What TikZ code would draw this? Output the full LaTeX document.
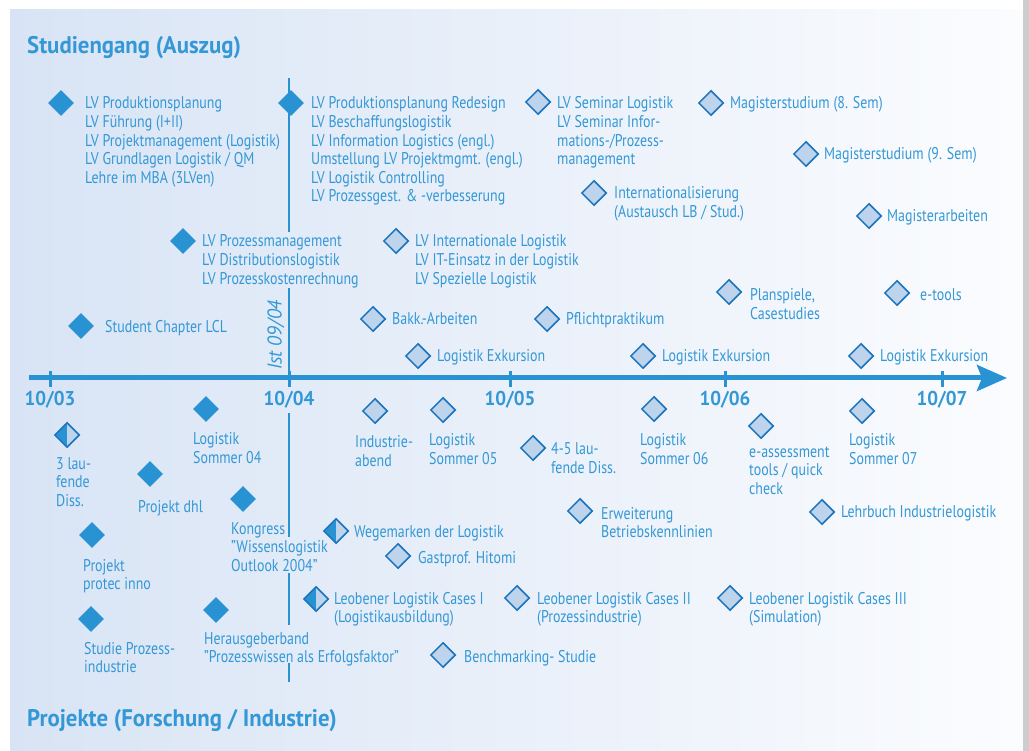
\documentclass[tikz,border=0pt]{standalone}
\usepackage{fontspec}
\setmainfont{PT Sans}[FakeStretch=0.82]
\newfontfamily\headfont{PT Sans}[FakeStretch=0.95]
\usetikzlibrary{shapes.geometric,arrows.meta}
\definecolor{tblue}{RGB}{52,152,214}
\definecolor{dblue}{RGB}{40,146,210}
\definecolor{lfill}{RGB}{190,211,236}
\definecolor{edge}{RGB}{24,114,188}
\definecolor{bgleft}{RGB}{216,228,245}
\definecolor{bgright}{RGB}{251,252,254}
\definecolor{rim}{RGB}{205,205,205}
% stacked lines, aligned on the baseline of the first line
\newcommand\stack[1]{\begin{tabular}[t]{@{}l@{}}#1\end{tabular}}
\begin{document}
\begin{tikzpicture}[x=1pt,y=-1pt,
  fd/.style={diamond,inner sep=0,minimum width=26pt,minimum height=26pt,fill=dblue},
  ld/.style={diamond,inner sep=0,minimum width=25pt,minimum height=25pt,fill=lfill,draw=edge,line width=1.5pt},
  hd/.style={ld,path picture={\fill[dblue] (path picture bounding box.south west) rectangle (path picture bounding box.north);}},
  lbl/.style={anchor=base west,inner sep=0,text=tblue,font=\fontsize{17}{18.6}\selectfont},
  head/.style={anchor=base west,inner sep=0,text=tblue,font=\headfont\fontsize{24}{28}\selectfont\bfseries},
  yr/.style={anchor=base,inner sep=0,text=tblue,font=\headfont\fontsize{20}{24}\selectfont\bfseries},
  axisline/.style={draw=dblue,line width=5pt},
  tickline/.style={draw=dblue,line width=3pt},
  statusline/.style={draw=dblue,line width=2pt}]
% page and panel
\useasboundingbox (0,0) rectangle (1029,751);
\fill[white] (0,0) rectangle (1029,751);
\fill[rim] (1023,0) rectangle (1029,751);
\shade[left color=bgleft,right color=bgright] (10,10) rectangle (1022,751);

% headings
\node[head] (hStud) at (27,54) {Studiengang (Auszug)};
\node[head] (hProj) at (27,726) {Projekte (Forschung / Industrie)};

% time axis
\coordinate (axL) at (29,378);
\coordinate (axR) at (1007,378);
\draw[axisline,-{Stealth[length=30pt,width=26pt,inset=5pt]}] (axL) -- (axR);
\foreach \x/\n in {50/03,289/04,510/05,725/06,942/07}{
  \coordinate (t\n) at (\x,378);
  \draw[tickline] (\x,371) -- (\x,387);
  \node[yr] (y\n) at (\x,406) {10/\n};
}

% status line at 09/04
\coordinate (s1a) at (289,78);  \coordinate (s1b) at (289,232);
\coordinate (s2a) at (289,288); \coordinate (s2b) at (289,378);
\coordinate (s3a) at (289,413); \coordinate (s3b) at (289,537);
\coordinate (s4a) at (289,573); \coordinate (s4b) at (289,625);
\coordinate (s5a) at (289,663); \coordinate (s5b) at (289,682);
\draw[statusline] (s1a) -- (s1b);
\draw[statusline] (s2a) -- (s2b);
\draw[statusline] (s3a) -- (s3b);
\draw[statusline] (s4a) -- (s4b);
\draw[statusline] (s5a) -- (s5b);
\node[rotate=90,inner sep=0,text=tblue,font=\headfont\fontsize{20}{22}\selectfont\itshape] (ist) at (276,335) {Ist 09/04};

% ---- Studiengang ----
\node[fd] (d1) at (61,103) {};
\node[lbl] (l1) at (85,109) {\stack{LV Produktionsplanung\\LV Führung (I+II)\\LV Projektmanagement (Logistik)\\LV Grundlagen Logistik / QM\\Lehre im MBA (3LVen)}};
\node[fd] (d2) at (291,103) {};
\node[lbl] (l2) at (311,109) {\stack{LV Produktionsplanung Redesign\\LV Beschaffungslogistik\\LV Information Logistics (engl.)\\Umstellung LV Projektmgmt. (engl.)\\LV Logistik Controlling\\LV Prozessgest. \& -verbesserung}};
\node[ld] (d3) at (538,102) {};
\node[lbl] (l3) at (557,109) {\stack{LV Seminar Logistik\\LV Seminar Infor-\\mations-/Prozess-\\management}};
\node[ld] (d4) at (711,103) {};
\node[lbl] (l4) at (730,109) {Magisterstudium (8. Sem)};
\node[ld] (d5) at (806,154) {};
\node[lbl] (l5) at (824,160) {Magisterstudium (9. Sem)};
\node[ld] (d6) at (594,193) {};
\node[lbl] (l6) at (614,199) {\stack{Internationalisierung\\(Austausch LB / Stud.)}};
\node[ld] (d7) at (869,216) {};
\node[lbl] (l7) at (887,222) {Magisterarbeiten};
\node[fd] (d8) at (183,241) {};
\node[lbl] (l8) at (202,247) {\stack{LV Prozessmanagement\\LV Distributionslogistik\\LV Prozesskostenrechnung}};
\node[ld] (d9) at (396,241) {};
\node[lbl] (l9) at (415,247) {\stack{LV Internationale Logistik\\LV IT-Einsatz in der Logistik\\LV Spezielle Logistik}};
\node[ld] (d10) at (729,292) {};
\node[lbl] (l10) at (750,301) {\stack{Planspiele,\\Casestudies}};
\node[ld] (d11) at (897,293) {};
\node[lbl] (l11) at (920,301) {e-tools};
\node[fd] (d12) at (81,326) {};
\node[lbl] (l12) at (105,333) {Student Chapter LCL};
\node[ld] (d13) at (373,319) {};
\node[lbl] (l13) at (392,325) {Bakk.-Arbeiten};
\node[ld] (d14) at (547,319) {};
\node[lbl] (l14) at (566,325) {Pflichtpraktikum};
\node[ld] (d15) at (418,356) {};
\node[lbl] (l15) at (437,362) {Logistik Exkursion};
\node[ld] (d16) at (643,356) {};
\node[lbl] (l16) at (662,362) {Logistik Exkursion};
\node[ld] (d17) at (861,356) {};
\node[lbl] (l17) at (880,362) {Logistik Exkursion};

% ---- Projekte ----
\node[hd] (p1) at (67,435) {};
\node[lbl] (q1) at (56,469) {\stack{3 lau-\\fende\\Diss.}};
\node[fd] (p2) at (206,409) {};
\node[lbl] (q2) at (193,445) {\stack{Logistik\\Sommer 04}};
\node[fd] (p3) at (150,474) {};
\node[lbl] (q3) at (138,512) {Projekt dhl};
\node[fd] (p4) at (243,499) {};
\node[lbl] (q4) at (231,534) {\stack{Kongress\\"Wissenslogistik\\Outlook 2004"}};
\node[fd] (p5) at (92,535) {};
\node[lbl] (q5) at (83,571) {\stack{Projekt\\protec inno}};
\node[hd] (p6) at (336,531) {};
\node[lbl] (q6) at (354,537) {Wegemarken der Logistik};
\node[ld] (p7) at (398,556) {};
\node[lbl] (q7) at (418,563) {Gastprof. Hitomi};
\node[ld] (p8) at (375,411) {};
\node[lbl] (q8) at (355,448) {\stack{Industrie-\\abend}};
\node[ld] (p9) at (443,410) {};
\node[lbl] (q9) at (429,446) {\stack{Logistik\\Sommer 05}};
\node[ld] (p10) at (533,448) {};
\node[lbl] (q10) at (551,455) {\stack{4-5 lau-\\fende Diss.}};
\node[ld] (p11) at (654,409) {};
\node[lbl] (q11) at (640,446) {\stack{Logistik\\Sommer 06}};
\node[ld] (p12) at (580,511) {};
\node[lbl] (q12) at (601,519) {\stack{Erweiterung\\Betriebskennlinien}};
\node[ld] (p13) at (761,426) {};
\node[lbl] (q13) at (749,457) {\stack{e-assessment\\tools / quick\\check}};
\node[ld] (p14) at (862,411) {};
\node[lbl] (q14) at (849,446) {\stack{Logistik\\Sommer 07}};
\node[ld] (p15) at (822,512) {};
\node[lbl] (q15) at (841,517) {Lehrbuch Industrielogistik};
\node[hd] (p16) at (316,599) {};
\node[lbl] (q16) at (334,604) {\stack{Leobener Logistik Cases I\\(Logistikausbildung)}};
\node[ld] (p17) at (517,598) {};
\node[lbl] (q17) at (537,604) {\stack{Leobener Logistik Cases II\\(Prozessindustrie)}};
\node[ld] (p18) at (730,598) {};
\node[lbl] (q18) at (749,604) {\stack{Leobener Logistik Cases III\\(Simulation)}};
\node[fd] (p19) at (91,619) {};
\node[lbl] (q19) at (84,654) {\stack{Studie Prozess-\\industrie}};
\node[fd] (p20) at (216,610) {};
\node[lbl] (q20) at (204,644) {\stack{Herausgeberband\\"Prozesswissen als Erfolgsfaktor"}};
\node[ld] (p21) at (443,655) {};
\node[lbl] (q21) at (464,662) {Benchmarking- Studie};
\end{tikzpicture}
\end{document}
